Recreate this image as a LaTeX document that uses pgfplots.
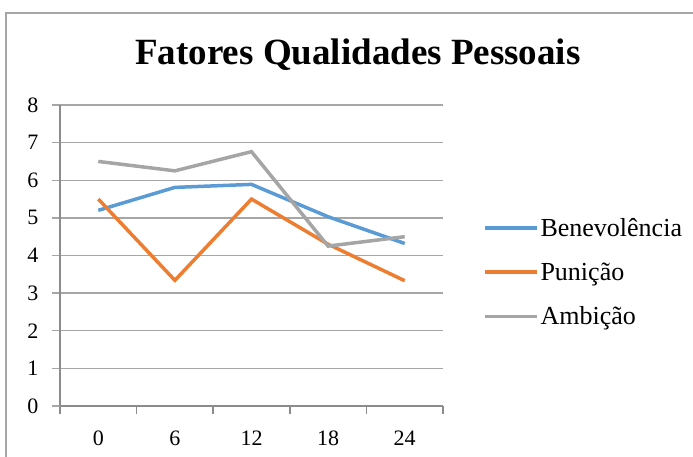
\documentclass[border=0pt]{standalone}
\usepackage{fontspec}
\setmainfont{Liberation Serif}
\usepackage{pgfplots}
\pgfplotsset{compat=1.18}
\definecolor{cBen}{HTML}{5B9BD5}
\definecolor{cPun}{HTML}{ED7D31}
\definecolor{cAmb}{HTML}{A5A5A5}
\definecolor{gridc}{HTML}{A6A6A6}
\definecolor{axc}{HTML}{8C8C8C}
\begin{document}
\begin{tikzpicture}[x=1pt,y=1pt]
\useasboundingbox (0,0) rectangle (693,457);
% chart frame (cut by the page at right and bottom)
\draw[gridc, line width=1.5pt] (6,-20) -- (6,444) -- (720,444);
\node[font=\fontsize{37}{44}\selectfont\bfseries] at (358,402) {Fatores Qualidades Pessoais};
\begin{axis}[
    at={(60pt,51pt)}, anchor=south west,
    scale only axis,
    width=383pt, height=301pt,
    xmin=-0.5, xmax=4.5, ymin=0, ymax=8,
    xtick={0,1,2,3,4},
    xticklabels={0,6,12,18,24},
    minor xtick={-0.5,0.5,1.5,2.5,3.5,4.5},
    ytick={0,1,...,8},
    ymajorgrids=true,
    grid style={gridc, line width=1.5pt},
    axis x line*=bottom, axis y line*=left,
    axis line style={axc, line width=1.5pt, -},
    tick align=outside,
    major tick length=8pt, minor tick length=8pt,
    major x tick style={draw=none},
    minor x tick style={axc, line width=1.5pt},
    major y tick style={gridc, line width=1.5pt},
    tick label style={font=\fontsize{22}{26}\selectfont},
    /pgf/number format/assume math mode=true,
    xticklabel style={yshift=-13pt},
    yticklabel style={xshift=-10pt},
    legend style={draw=none, fill=none, at={(1.104,0.445)}, anchor=west,
        inner xsep=0pt, font=\fontsize{26}{30}\selectfont,
        row sep=21pt, legend cell align=left},
    legend image code/.code={\draw[#1] (0pt,0pt) -- (52pt,0pt);},
]
\addplot[cBen, line width=3.5pt] coordinates {(0,5.20) (1,5.81) (2,5.89) (3,5.03) (4,4.32)};
\addlegendentry{Benevolência}
\addplot[cPun, line width=3.5pt] coordinates {(0,5.50) (1,3.34) (2,5.50) (3,4.30) (4,3.33)};
\addlegendentry{Punição}
\addplot[cAmb, line width=3.5pt] coordinates {(0,6.50) (1,6.25) (2,6.76) (3,4.25) (4,4.50)};
\addlegendentry{Ambição}
\end{axis}
\end{tikzpicture}
\end{document}
